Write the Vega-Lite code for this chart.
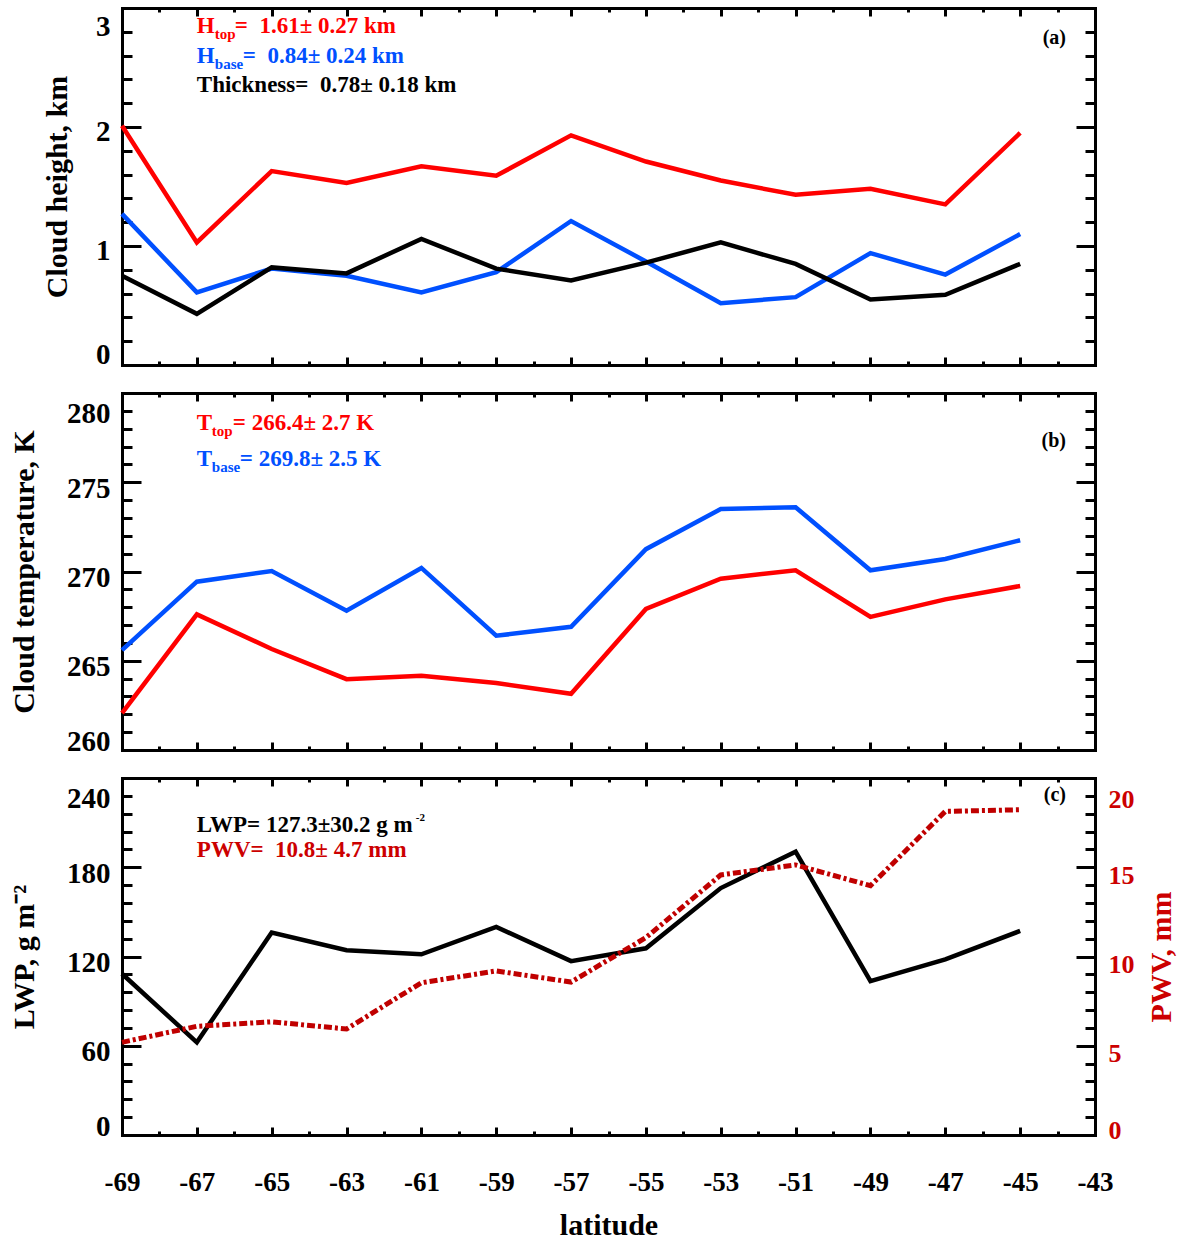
{
"$schema": "https://vega.github.io/schema/vega-lite/v6.json",
"autosize": {"type": "none"},
"padding": {"left": 122, "top": 8, "right": 1060, "bottom": 1235},
"background": "white",
"bounds": "flush",
"spacing": 28,
"config": {
  "view": {"stroke": null},
  "axis": {"grid": false, "domainColor": "#000000", "domainWidth": 3, "domainCap": "square", "tickColor": "#000000", "tickWidth": 3, "labelFont": "Liberation Serif", "labelFontWeight": "bold", "labelColor": "#000000", "labelFontSize": 29, "titleFont": "Liberation Serif", "titleFontWeight": "bold", "titleFontSize": 30, "titleColor": "#000000", "labelOverlap": false, "labelBound": false},
  "text": {"font": "Liberation Serif", "fontWeight": "bold", "fontSize": 23, "align": "left", "baseline": "alphabetic"}
},
"vconcat": [
{
  "width": 973, "height": 357,
  "data": {"values": [
    {"lat": -69, "htop": 2.01, "hbase": 1.27, "thick": 0.75},
    {"lat": -67, "htop": 1.03, "hbase": 0.61, "thick": 0.43},
    {"lat": -65, "htop": 1.63, "hbase": 0.81, "thick": 0.82},
    {"lat": -63, "htop": 1.53, "hbase": 0.75, "thick": 0.77},
    {"lat": -61, "htop": 1.67, "hbase": 0.61, "thick": 1.06},
    {"lat": -59, "htop": 1.59, "hbase": 0.78, "thick": 0.81},
    {"lat": -57, "htop": 1.93, "hbase": 1.21, "thick": 0.71},
    {"lat": -55, "htop": 1.71, "hbase": 0.87, "thick": 0.86},
    {"lat": -53, "htop": 1.55, "hbase": 0.52, "thick": 1.03},
    {"lat": -51, "htop": 1.43, "hbase": 0.57, "thick": 0.85},
    {"lat": -49, "htop": 1.48, "hbase": 0.94, "thick": 0.55},
    {"lat": -47, "htop": 1.35, "hbase": 0.76, "thick": 0.59},
    {"lat": -45, "htop": 1.95, "hbase": 1.10, "thick": 0.85}
  ]},
  "resolve": {"axis": {"x": "independent", "y": "independent"}},
  "layer": [
    {"mark": {"type": "line", "color": "#ff0000", "strokeWidth": 4.5},
     "encoding": {
       "x": {"field": "lat", "type": "quantitative", "scale": {"domain": [-69, -43], "nice": false, "zero": false},
             "axis": {"orient": "bottom", "values": [-69,-67,-65,-63,-61,-59,-57,-55,-53,-51,-49,-47,-45,-43], "tickSize": -8, "labels": false, "title": null}},
       "y": {"field": "htop", "type": "quantitative", "scale": {"domain": [0, 3], "nice": false, "zero": false},
             "axis": {"orient": "left", "values": [0,1,2,3], "tickSize": -19, "labelPadding": 31, "labelFlush": true, "labelOffset": 4, "labelExpr": "'' + datum.value", "title": "Cloud height, km", "titlePadding": 23}}}},
    {"mark": {"type": "line", "color": "#0050ff", "strokeWidth": 4.5},
     "encoding": {
       "x": {"field": "lat", "type": "quantitative", "scale": {"domain": [-69, -43], "nice": false, "zero": false},
             "axis": {"orient": "top", "values": [-69,-67,-65,-63,-61,-59,-57,-55,-53,-51,-49,-47,-45,-43], "tickSize": -8, "labels": false, "title": null}},
       "y": {"field": "hbase", "type": "quantitative", "scale": {"domain": [0, 3], "nice": false, "zero": false},
             "axis": {"orient": "right", "values": [0,1,2,3], "tickSize": -19, "labels": false, "title": null}}}},
    {"mark": {"type": "line", "color": "#000000", "strokeWidth": 4.5},
     "encoding": {
       "x": {"field": "lat", "type": "quantitative", "scale": {"domain": [-69, -43], "nice": false, "zero": false},
             "axis": {"orient": "bottom", "values": [-68,-66,-64,-62,-60,-58,-56,-54,-52,-50,-48,-46,-44], "tickSize": -4, "labels": false, "domain": false, "title": null}},
       "y": {"field": "thick", "type": "quantitative", "scale": {"domain": [0, 3], "nice": false, "zero": false},
             "axis": {"orient": "left", "values": [0.2,0.4,0.6,0.8,1.2,1.4,1.6,1.8,2.2,2.4,2.6,2.8], "tickSize": -10, "labels": false, "domain": false, "title": null}}}},
    {"mark": {"type": "point", "opacity": 0},
     "encoding": {
       "x": {"field": "lat", "type": "quantitative", "scale": {"domain": [-69, -43], "nice": false, "zero": false},
             "axis": {"orient": "top", "values": [-68,-66,-64,-62,-60,-58,-56,-54,-52,-50,-48,-46,-44], "tickSize": -4, "labels": false, "domain": false, "title": null}},
       "y": {"field": "thick", "type": "quantitative", "scale": {"domain": [0, 3], "nice": false, "zero": false},
             "axis": {"orient": "right", "values": [0.2,0.4,0.6,0.8,1.2,1.4,1.6,1.8,2.2,2.4,2.6,2.8], "tickSize": -10, "labels": false, "domain": false, "title": null}}}},
    {"data": {"values": [{}]}, "mark": {"type": "text", "text": "H", "color": "#ff0000"},
     "encoding": {"x": {"datum": -67, "type": "quantitative", "axis": null}, "y": {"datum": 2.79, "type": "quantitative", "axis": null}}},
    {"data": {"values": [{}]}, "mark": {"type": "text", "text": "top", "color": "#ff0000", "fontSize": 15, "dx": 18, "dy": 6},
     "encoding": {"x": {"datum": -67, "type": "quantitative", "axis": null}, "y": {"datum": 2.79, "type": "quantitative", "axis": null}}},
    {"data": {"values": [{}]}, "mark": {"type": "text", "text": "=\u00a0\u00a01.61±\u00a00.27 km", "color": "#ff0000", "dx": 38},
     "encoding": {"x": {"datum": -67, "type": "quantitative", "axis": null}, "y": {"datum": 2.79, "type": "quantitative", "axis": null}}},
    {"data": {"values": [{}]}, "mark": {"type": "text", "text": "H", "color": "#0050ff"},
     "encoding": {"x": {"datum": -67, "type": "quantitative", "axis": null}, "y": {"datum": 2.538, "type": "quantitative", "axis": null}}},
    {"data": {"values": [{}]}, "mark": {"type": "text", "text": "base", "color": "#0050ff", "fontSize": 15, "dx": 18, "dy": 6},
     "encoding": {"x": {"datum": -67, "type": "quantitative", "axis": null}, "y": {"datum": 2.538, "type": "quantitative", "axis": null}}},
    {"data": {"values": [{}]}, "mark": {"type": "text", "text": "=\u00a0\u00a00.84±\u00a00.24 km", "color": "#0050ff", "dx": 46},
     "encoding": {"x": {"datum": -67, "type": "quantitative", "axis": null}, "y": {"datum": 2.538, "type": "quantitative", "axis": null}}},
    {"data": {"values": [{}]}, "mark": {"type": "text", "text": "Thickness=\u00a0\u00a00.78±\u00a00.18 km", "color": "#000000"},
     "encoding": {"x": {"datum": -67, "type": "quantitative", "axis": null}, "y": {"datum": 2.294, "type": "quantitative", "axis": null}}},
    {"data": {"values": [{}]}, "mark": {"type": "text", "text": "(a)", "color": "#000000", "fontSize": 20, "align": "right", "dx": -29},
     "encoding": {"x": {"datum": -43, "type": "quantitative", "axis": null}, "y": {"datum": 2.697, "type": "quantitative", "axis": null}}}
  ]
},
{
  "width": 973, "height": 357,
  "data": {"values": [
    {"lat": -69, "ttop": 262.06, "tbase": 265.6},
    {"lat": -67, "ttop": 267.6, "tbase": 269.43},
    {"lat": -65, "ttop": 265.66, "tbase": 270.03},
    {"lat": -63, "ttop": 263.97, "tbase": 267.8},
    {"lat": -61, "ttop": 264.16, "tbase": 270.2},
    {"lat": -59, "ttop": 263.75, "tbase": 266.4},
    {"lat": -57, "ttop": 263.15, "tbase": 266.9},
    {"lat": -55, "ttop": 267.9, "tbase": 271.25},
    {"lat": -53, "ttop": 269.6, "tbase": 273.5},
    {"lat": -51, "ttop": 270.07, "tbase": 273.6},
    {"lat": -49, "ttop": 267.46, "tbase": 270.07},
    {"lat": -47, "ttop": 268.44, "tbase": 270.7},
    {"lat": -45, "ttop": 269.19, "tbase": 271.75}
  ]},
  "resolve": {"axis": {"x": "independent", "y": "independent"}},
  "layer": [
    {"mark": {"type": "line", "color": "#0050ff", "strokeWidth": 4.5},
     "encoding": {
       "x": {"field": "lat", "type": "quantitative", "scale": {"domain": [-69, -43], "nice": false, "zero": false},
             "axis": {"orient": "bottom", "values": [-69,-67,-65,-63,-61,-59,-57,-55,-53,-51,-49,-47,-45,-43], "tickSize": -8, "labels": false, "title": null}},
       "y": {"field": "tbase", "type": "quantitative", "scale": {"domain": [260, 280], "nice": false, "zero": false},
             "axis": {"orient": "left", "values": [260,265,270,275,280], "tickSize": -19, "labelPadding": 31, "labelFlush": true, "labelOffset": 6, "labelExpr": "'' + datum.value", "title": "Cloud temperature, K", "titlePadding": 27}}}},
    {"mark": {"type": "line", "color": "#ff0000", "strokeWidth": 4.5},
     "encoding": {
       "x": {"field": "lat", "type": "quantitative", "scale": {"domain": [-69, -43], "nice": false, "zero": false},
             "axis": {"orient": "top", "values": [-69,-67,-65,-63,-61,-59,-57,-55,-53,-51,-49,-47,-45,-43], "tickSize": -8, "labels": false, "title": null}},
       "y": {"field": "ttop", "type": "quantitative", "scale": {"domain": [260, 280], "nice": false, "zero": false},
             "axis": {"orient": "right", "values": [260,265,270,275,280], "tickSize": -19, "labels": false, "title": null}}}},
    {"mark": {"type": "point", "opacity": 0},
     "encoding": {
       "x": {"field": "lat", "type": "quantitative", "scale": {"domain": [-69, -43], "nice": false, "zero": false},
             "axis": {"orient": "bottom", "values": [-68,-66,-64,-62,-60,-58,-56,-54,-52,-50,-48,-46,-44], "tickSize": -4, "labels": false, "domain": false, "title": null}},
       "y": {"field": "ttop", "type": "quantitative", "scale": {"domain": [260, 280], "nice": false, "zero": false},
             "axis": {"orient": "left", "values": [261,262,263,264,266,267,268,269,271,272,273,274,276,277,278,279], "tickSize": -10, "labels": false, "domain": false, "title": null}}}},
    {"mark": {"type": "point", "opacity": 0},
     "encoding": {
       "x": {"field": "lat", "type": "quantitative", "scale": {"domain": [-69, -43], "nice": false, "zero": false},
             "axis": {"orient": "top", "values": [-68,-66,-64,-62,-60,-58,-56,-54,-52,-50,-48,-46,-44], "tickSize": -4, "labels": false, "domain": false, "title": null}},
       "y": {"field": "ttop", "type": "quantitative", "scale": {"domain": [260, 280], "nice": false, "zero": false},
             "axis": {"orient": "right", "values": [261,262,263,264,266,267,268,269,271,272,273,274,276,277,278,279], "tickSize": -10, "labels": false, "domain": false, "title": null}}}},
    {"data": {"values": [{}]}, "mark": {"type": "text", "text": "T", "color": "#ff0000"},
     "encoding": {"x": {"datum": -67, "type": "quantitative", "axis": null}, "y": {"datum": 277.93, "type": "quantitative", "axis": null}}},
    {"data": {"values": [{}]}, "mark": {"type": "text", "text": "top", "color": "#ff0000", "fontSize": 15, "dx": 15, "dy": 6},
     "encoding": {"x": {"datum": -67, "type": "quantitative", "axis": null}, "y": {"datum": 277.93, "type": "quantitative", "axis": null}}},
    {"data": {"values": [{}]}, "mark": {"type": "text", "text": "= 266.4±\u00a02.7 K", "color": "#ff0000", "dx": 36},
     "encoding": {"x": {"datum": -67, "type": "quantitative", "axis": null}, "y": {"datum": 277.93, "type": "quantitative", "axis": null}}},
    {"data": {"values": [{}]}, "mark": {"type": "text", "text": "T", "color": "#0050ff"},
     "encoding": {"x": {"datum": -67, "type": "quantitative", "axis": null}, "y": {"datum": 275.91, "type": "quantitative", "axis": null}}},
    {"data": {"values": [{}]}, "mark": {"type": "text", "text": "base", "color": "#0050ff", "fontSize": 15, "dx": 15, "dy": 6},
     "encoding": {"x": {"datum": -67, "type": "quantitative", "axis": null}, "y": {"datum": 275.91, "type": "quantitative", "axis": null}}},
    {"data": {"values": [{}]}, "mark": {"type": "text", "text": "= 269.8±\u00a02.5 K", "color": "#0050ff", "dx": 43},
     "encoding": {"x": {"datum": -67, "type": "quantitative", "axis": null}, "y": {"datum": 275.91, "type": "quantitative", "axis": null}}},
    {"data": {"values": [{}]}, "mark": {"type": "text", "text": "(b)", "color": "#000000", "fontSize": 20, "align": "right", "dx": -29},
     "encoding": {"x": {"datum": -43, "type": "quantitative", "axis": null}, "y": {"datum": 276.97, "type": "quantitative", "axis": null}}}
  ]
},
{
  "width": 973, "height": 357,
  "data": {"values": [
    {"lat": -69, "lwp": 108.4, "pwv": 5.19},
    {"lat": -67, "lwp": 62.3, "pwv": 6.09},
    {"lat": -65, "lwp": 136.1, "pwv": 6.34},
    {"lat": -63, "lwp": 124.2, "pwv": 5.94},
    {"lat": -61, "lwp": 121.5, "pwv": 8.53},
    {"lat": -59, "lwp": 139.9, "pwv": 9.19},
    {"lat": -57, "lwp": 116.9, "pwv": 8.57},
    {"lat": -55, "lwp": 125.5, "pwv": 11.06},
    {"lat": -53, "lwp": 166.0, "pwv": 14.57},
    {"lat": -51, "lwp": 190.5, "pwv": 15.13},
    {"lat": -49, "lwp": 103.5, "pwv": 13.97},
    {"lat": -47, "lwp": 118.1, "pwv": 18.13},
    {"lat": -45, "lwp": 137.2, "pwv": 18.22}
  ]},
  "resolve": {"scale": {"y": "independent"}, "axis": {"x": "independent", "y": "independent"}},
  "layer": [
    {"mark": {"type": "line", "color": "#000000", "strokeWidth": 4.5},
     "encoding": {
       "x": {"field": "lat", "type": "quantitative", "scale": {"domain": [-69, -43], "nice": false, "zero": false},
             "axis": {"orient": "bottom", "values": [-69,-67,-65,-63,-61,-59,-57,-55,-53,-51,-49,-47,-45,-43], "tickSize": -8, "labelPadding": 42, "labelFontSize": 27, "labelFlush": false, "labelExpr": "'' + datum.value", "title": "latitude", "titlePadding": 15}},
       "y": {"field": "lwp", "type": "quantitative", "scale": {"domain": [0, 240], "nice": false, "zero": false},
             "axis": {"orient": "left", "values": [0,60,120,180,240], "tickSize": -19, "labelPadding": 31, "labelFlush": true, "labelOffset": 6, "labelExpr": "'' + datum.value", "title": "LWP, g m⁻²", "titlePadding": 27}}}},
    {"mark": {"type": "line", "color": "#c00000", "strokeWidth": 5, "strokeDash": [8, 3, 3, 3]},
     "encoding": {
       "x": {"field": "lat", "type": "quantitative", "scale": {"domain": [-69, -43], "nice": false, "zero": false},
             "axis": {"orient": "top", "values": [-69,-67,-65,-63,-61,-59,-57,-55,-53,-51,-49,-47,-45,-43], "tickSize": -8, "labels": false, "title": null}},
       "y": {"field": "pwv", "type": "quantitative", "scale": {"domain": [0, 20], "nice": false, "zero": false},
             "axis": {"orient": "right", "values": [0,5,10,15,20], "tickSize": -19, "labelPadding": 32, "labelFontSize": 26, "labelColor": "#cc0000", "labelFlush": true, "labelOffset": 8, "labelExpr": "'' + datum.value", "title": "PWV, mm", "titleColor": "#cc0000", "titleAngle": 270, "titleBaseline": "top", "titlePadding": 12}}}},
    {"mark": {"type": "point", "opacity": 0},
     "encoding": {
       "x": {"field": "lat", "type": "quantitative", "scale": {"domain": [-69, -43], "nice": false, "zero": false},
             "axis": {"orient": "bottom", "values": [-68,-66,-64,-62,-60,-58,-56,-54,-52,-50,-48,-46,-44], "tickSize": -4, "labels": false, "domain": false, "title": null}},
       "y": {"field": "lwp", "type": "quantitative", "scale": {"domain": [0, 240], "nice": false, "zero": false},
             "axis": {"orient": "left", "values": [12,24,36,48,72,84,96,108,132,144,156,168,192,204,216,228], "tickSize": -10, "labels": false, "domain": false, "title": null}}}},
    {"mark": {"type": "point", "opacity": 0},
     "encoding": {
       "x": {"field": "lat", "type": "quantitative", "scale": {"domain": [-69, -43], "nice": false, "zero": false},
             "axis": {"orient": "top", "values": [-68,-66,-64,-62,-60,-58,-56,-54,-52,-50,-48,-46,-44], "tickSize": -4, "labels": false, "domain": false, "title": null}},
       "y": {"field": "pwv", "type": "quantitative", "scale": {"domain": [0, 20], "nice": false, "zero": false},
             "axis": {"orient": "right", "values": [1,2,3,4,6,7,8,9,11,12,13,14,16,17,18,19], "tickSize": -10, "labels": false, "domain": false, "title": null}}}},
    {"data": {"values": [{}]}, "mark": {"type": "text", "text": "LWP= 127.3±30.2 g m", "color": "#000000"},
     "encoding": {"x": {"datum": -67, "type": "quantitative", "axis": null}, "y": {"datum": 203.9, "type": "quantitative", "axis": null, "scale": {"domain": [0, 240], "nice": false, "zero": false}}}},
    {"data": {"values": [{}]}, "mark": {"type": "text", "text": "-2", "color": "#000000", "fontSize": 11, "dx": 219, "dy": -11},
     "encoding": {"x": {"datum": -67, "type": "quantitative", "axis": null}, "y": {"datum": 203.9, "type": "quantitative", "axis": null, "scale": {"domain": [0, 240], "nice": false, "zero": false}}}},
    {"data": {"values": [{}]}, "mark": {"type": "text", "text": "PWV=\u00a0\u00a010.8±\u00a04.7 mm", "color": "#cc0000"},
     "encoding": {"x": {"datum": -67, "type": "quantitative", "axis": null}, "y": {"datum": 186.9, "type": "quantitative", "axis": null, "scale": {"domain": [0, 240], "nice": false, "zero": false}}}},
    {"data": {"values": [{}]}, "mark": {"type": "text", "text": "(c)", "color": "#000000", "fontSize": 20, "align": "right", "dx": -29},
     "encoding": {"x": {"datum": -43, "type": "quantitative", "axis": null}, "y": {"datum": 224.5, "type": "quantitative", "axis": null, "scale": {"domain": [0, 240], "nice": false, "zero": false}}}}
  ]
}
]
}
